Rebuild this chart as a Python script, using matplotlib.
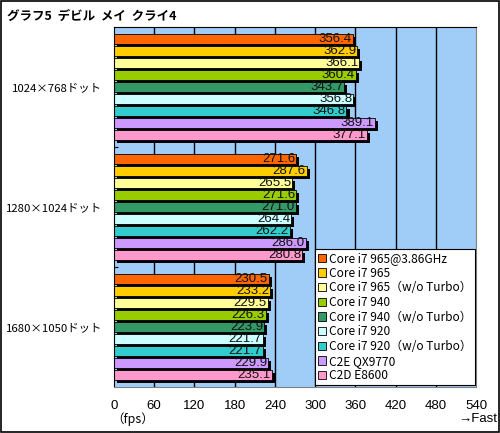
import numpy as np
import matplotlib.pyplot as plt
import matplotlib.patheffects as pe
from matplotlib.patches import Rectangle

plt.rcParams['font.family'] = ['Liberation Sans', 'Noto Sans CJK JP', 'DejaVu Sans']
cjk = ['Noto Sans CJK JP', 'DejaVu Sans']

title = 'グラフ5  デビル  メイ  クライ4'
groups = ['1024×768ドット', '1280×1024ドット', '1680×1050ドット']
series = ['Core i7 965@3.86GHz', 'Core i7 965', 'Core i7 965（w/o Turbo）',
          'Core i7 940', 'Core i7 940（w/o Turbo）', 'Core i7 920',
          'Core i7 920（w/o Turbo）', 'C2E QX9770', 'C2D E8600']
colors = ['#FF6600', '#FFCC00', '#FFFF99', '#99CC00', '#339966',
          '#CCFFFF', '#33CCCC', '#CC99FF', '#FF99CC']
values = [
    [356.4, 362.9, 366.1, 360.4, 343.7, 356.8, 346.8, 389.1, 377.1],
    [271.6, 287.6, 265.5, 271.6, 271.0, 264.4, 262.2, 286.0, 280.8],
    [230.5, 233.2, 229.5, 226.3, 223.9, 221.7, 221.7, 229.9, 235.1],
]
xticks = np.arange(0, 541, 60)

fig = plt.figure(figsize=(5, 4.33), dpi=100)
ax = fig.add_axes([0.228, 0.106, 0.724, 0.832])
ax.set_facecolor('#A0CCF8')

for x in xticks[1:-1]:
    ax.axvline(x, color='black', lw=1, zorder=1)

pitch = 0.1
shadow = [pe.SimplePatchShadow(offset=(2.2, -2.2), shadow_rgbFace='black', alpha=1), pe.Normal()]
for g, vals in enumerate(values):
    for i, v in enumerate(vals):
        y = g + 0.1 + i * pitch
        b = ax.barh(y, v, height=0.084, color=colors[i], edgecolor='black', lw=0.6, zorder=2)
        b[0].set_path_effects(shadow)
        ax.text(v - 1.5, y + 0.003, f'{v:.1f}', ha='right', va='center', fontsize=9.5,
                color='#111111', zorder=3)

ax.set_xlim(0, 540)
ax.set_ylim(3, 0)
ax.set_xticks(xticks)
ax.set_xticklabels([str(t) for t in xticks], fontsize=9.5)
ax.tick_params(axis='x', length=0, pad=9)
ax.set_yticks([1, 2])
ax.set_yticklabels([])
ax.set_yticks([0.5, 1.5, 2.5], minor=True)
ax.set_yticklabels(groups, minor=True, fontsize=8.2, family=cjk)
ax.tick_params(axis='y', which='major', direction='in', length=3, color='black')
ax.tick_params(axis='y', which='minor', length=0, pad=8.5)
ax.spines['right'].set_color('#808080')
ax.spines['bottom'].set_color('#808080')
ax.spines['top'].set_color('black')
ax.spines['left'].set_color('black')

handles = [Rectangle((0, 0), 1, 1, facecolor=c, edgecolor='black', lw=0.6) for c in colors]
leg = ax.legend(handles, series, loc='lower right', bbox_to_anchor=(0.996, 0.006),
                prop={'family': cjk, 'size': 8.6}, frameon=True, fancybox=False,
                framealpha=1, edgecolor='black', handlelength=0.7, handleheight=0.7,
                handletextpad=0.25, labelspacing=0.14, borderpad=0.22, borderaxespad=0)
leg.get_frame().set_linewidth(0.8)
leg.set_zorder(5)

fig.text(0.014, 0.962, title, fontsize=9, fontweight='bold', ha='left', va='center',
         family=cjk)
fig.text(0.222, 0.032, '（fps）', fontsize=9, ha='left', va='center', family=cjk)
fig.text(0.994, 0.032, '→Fast', fontsize=9.5, ha='right', va='center')
fig.patches.append(Rectangle((0.002, 0.003), 0.995, 0.994, transform=fig.transFigure,
                             fill=False, edgecolor='black', lw=1.2))

fig.savefig('out.png', dpi=100)
